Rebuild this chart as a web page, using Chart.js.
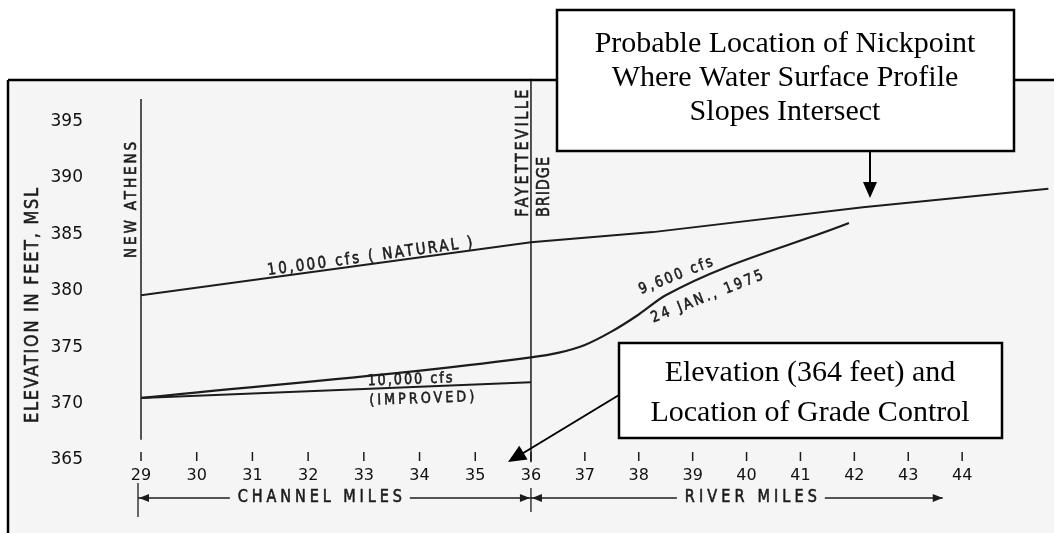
<!DOCTYPE html>
<html>
<head>
<meta charset="utf-8">
<script src="https://cdn.jsdelivr.net/npm/chart.js@4.4.0/dist/chart.umd.min.js"></script>
<style>
html, body { margin: 0; padding: 0; background: #fff; }
</style>
</head>
<body>
<canvas id="profileChart" width="1054" height="533"></canvas>
<script>
// 刻度
const xTicks = [29, 30, 31, 32, 33, 34, 35, 36, 37, 38, 39, 40, 41, 42, 43, 44];
const yTicks = [365, 370, 375, 380, 385, 390, 395];

// 10,000 cfs (NATURAL)
const naturalMiles = [29, 36, 38.26, 42.16, 45.6];
const naturalElev = [379.6, 384.3, 385.2, 387.4, 389.05];

// 9,600 cfs, 24 JAN. 1975
const janMiles = [29, 36, 36.5, 37, 37.5, 38, 38.5, 41.9];
const janElev = [370.5, 374.1, 374.5, 375.2, 376.4, 377.9, 379.6, 386.0];

// 10,000 cfs (IMPROVED)
const improvedMiles = [29, 36];
const improvedElev = [370.5, 371.9];

// New Athens / Fayetteville Bridge
const markerMiles = [29, 36];
const markerLow = [366.8, 364.8];
const markerHigh = [397, 398.8];

const ink = '#1c1c1c';
const hand = 'DejaVu Sans';
const serif = 'Liberation Serif';
// channel miles (29-36) take this share of the axis, river miles the rest
const channelShare = 0.429;

// 两种里程：河道里程与河流里程，比例不同
class MilesScale extends Chart.LinearScale {
    getPixelForValue(value) {
        const b = markerMiles[1];
        if (value <= b) return this.left + this.width * channelShare * (value - this.min) / (b - this.min);
        return this.left + this.width * (channelShare + (1 - channelShare) * (value - b) / (this.max - b));
    }
    getValueForPixel(pixel) {
        const b = markerMiles[1];
        const d = (pixel - this.left) / this.width;
        if (d <= channelShare) return this.min + d / channelShare * (b - this.min);
        return b + (d - channelShare) / (1 - channelShare) * (this.max - b);
    }
}
MilesScale.id = 'miles';
MilesScale.defaults = Chart.LinearScale.defaults;
Chart.register(MilesScale);

function pts(xs, ys) {
    return xs.map((x, i) => ({ x: x, y: ys[i] }));
}

// 手写字：窄一点，字距拉开到目标宽度
function label(ctx, text, x, y, angle, size, target, family, color, squeeze) {
    const sq = squeeze || 0.85;
    ctx.save();
    ctx.translate(x, y);
    ctx.rotate(angle);
    ctx.font = size + 'px "' + family + '"';
    ctx.fillStyle = color || ink;
    ctx.textAlign = 'center';
    ctx.textBaseline = 'middle';
    if (target) {
        ctx.letterSpacing = '0px';
        const w0 = ctx.measureText(text).width;
        const gap = Math.max((target / sq - w0) / (text.length - 1), 0);
        ctx.letterSpacing = gap + 'px';
        ctx.scale(sq, 1);
        ctx.fillText(text, gap / 2, 0);
        ctx.strokeStyle = color || ink;
        ctx.lineWidth = 0.6;
        ctx.strokeText(text, gap / 2, 0);
    } else {
        ctx.fillText(text, 0, 0);
    }
    ctx.restore();
}

function arrowHead(ctx, x1, y1, x2, y2, len, half) {
    const a = Math.atan2(y2 - y1, x2 - x1);
    const bx = x2 - len * Math.cos(a), by = y2 - len * Math.sin(a);
    ctx.beginPath();
    ctx.moveTo(x2, y2);
    ctx.lineTo(bx + half * Math.sin(a), by - half * Math.cos(a));
    ctx.lineTo(bx - half * Math.sin(a), by + half * Math.cos(a));
    ctx.closePath();
    ctx.fill();
}

function line(ctx, x1, y1, x2, y2) {
    ctx.beginPath();
    ctx.moveTo(x1, y1);
    ctx.lineTo(x2, y2);
    ctx.stroke();
}

const overlay = {
    id: 'overlay',
    beforeDraw(chart) {
        const ctx = chart.ctx;
        ctx.save();
        ctx.fillStyle = '#ffffff';
        ctx.fillRect(0, 0, chart.width, chart.height);
        ctx.fillStyle = '#f5f5f5';
        ctx.fillRect(8, 80, chart.width - 8, chart.height - 80);
        ctx.restore();
    },
    afterDraw(chart) {
        const ctx = chart.ctx;
        const xs = chart.scales.x, ys = chart.scales.y;
        const px = v => xs.getPixelForValue(v);
        const py = v => ys.getPixelForValue(v);
        const bottom = chart.chartArea.bottom;

        ctx.save();
        // 外框
        ctx.strokeStyle = '#000';
        ctx.lineWidth = 2.5;
        line(ctx, 8, 80, chart.width, 80);
        line(ctx, 8, 80, 8, chart.height);

        // x轴小刻度
        ctx.strokeStyle = ink;
        ctx.lineWidth = 1.5;
        xTicks.forEach(v => line(ctx, px(v), bottom - 8, px(v), bottom + 1));

        // y轴标题
        label(ctx, 'ELEVATION IN FEET, MSL', 33, py(378.7), -Math.PI / 2, 19, 235, hand);

        // 地名
        label(ctx, 'NEW ATHENS', px(29) - 9, py(388.05), -Math.PI / 2, 16, 116, hand);
        label(ctx, 'FAYETTEVILLE', px(36) - 7, py(392.2), -Math.PI / 2, 17, 127, hand);
        label(ctx, 'BRIDGE', px(36) + 14, py(389.2), -Math.PI / 2, 17, 60, hand);

        // 曲线标注
        const natAngle = Math.atan2(py(384.3) - py(379.6), px(36) - px(29));
        label(ctx, '10,000 cfs ( NATURAL )', px(33.11), py(383.0), natAngle, 16, 207, hand);
        const janAngle = Math.atan2(py(386.0) - py(379.6), px(41.9) - px(38.5));
        label(ctx, '9,600 cfs', px(38.69), py(381.3), janAngle, 15, 78, hand);
        label(ctx, '24 JAN., 1975', px(39.27), py(379.45), janAngle, 15, 119, hand);
        label(ctx, '10,000 cfs', px(33.83), py(372.1), -0.035, 15, 85, hand);
        label(ctx, '(IMPROVED)', px(34.04), py(370.4), -0.035, 15, 105, hand);

        // CHANNEL MILES / RIVER MILES
        const dy = bottom + 38;
        ctx.fillStyle = ink;
        ctx.lineWidth = 1.3;
        line(ctx, px(29) - 3, bottom + 23, px(29) - 3, bottom + 57);
        line(ctx, px(36), bottom + 28, px(36), bottom + 52);
        label(ctx, 'CHANNEL MILES', px(32.21), dy, 0, 17, 164, hand);
        label(ctx, 'RIVER MILES', px(40.08), dy, 0, 17, 132, hand);
        ctx.lineWidth = 1.3;
        line(ctx, px(29) - 3, dy, px(32.21) - 90, dy);
        line(ctx, px(32.21) + 90, dy, px(36), dy);
        line(ctx, px(36), dy, px(40.08) - 74, dy);
        line(ctx, px(40.08) + 74, dy, px(43.64), dy);
        arrowHead(ctx, px(29) + 10, dy, px(29) - 2, dy, 10, 4);
        arrowHead(ctx, px(36) - 12, dy, px(36) - 1, dy, 10, 4);
        arrowHead(ctx, px(36) + 12, dy, px(36) + 1, dy, 10, 4);
        arrowHead(ctx, px(43.2), dy, px(43.64), dy, 10, 4);

        // 说明框
        ctx.fillStyle = '#fff';
        ctx.strokeStyle = '#000';
        ctx.lineWidth = 2.5;
        ctx.fillRect(557, 10, 457, 141);
        ctx.strokeRect(557, 10, 457, 141);
        label(ctx, 'Probable Location of Nickpoint', 785, 44, 0, 30, 0, serif, '#000');
        label(ctx, 'Where Water Surface Profile', 785, 78, 0, 30, 0, serif, '#000');
        label(ctx, 'Slopes Intersect', 785, 112, 0, 30, 0, serif, '#000');
        ctx.lineWidth = 2;
        line(ctx, 870, 151, 870, 186);
        ctx.fillStyle = '#000';
        arrowHead(ctx, 870, 151, 870, 198, 16, 7);

        ctx.fillStyle = '#fff';
        ctx.lineWidth = 2.5;
        ctx.fillRect(619, 343, 383, 95);
        ctx.strokeRect(619, 343, 383, 95);
        label(ctx, 'Elevation (364 feet) and', 810, 373, 0, 30, 0, serif, '#000');
        label(ctx, 'Location of Grade Control', 810, 413, 0, 30, 0, serif, '#000');
        ctx.lineWidth = 2;
        line(ctx, 619, 395, 520, 455);
        ctx.fillStyle = '#000';
        arrowHead(ctx, 619, 395, 508, 462, 18, 8);
        ctx.restore();
    }
};

const lineStyle = { borderColor: ink, pointRadius: 0, fill: false };

const profileChart = new Chart(document.getElementById('profileChart').getContext('2d'), {
    type: 'line',
    data: {
        datasets: [
            Object.assign({ label: '10,000 cfs (NATURAL)', data: pts(naturalMiles, naturalElev), borderWidth: 2 }, lineStyle),
            Object.assign({ label: '9,600 cfs 24 JAN. 1975', data: pts(janMiles, janElev), borderWidth: 2.2, cubicInterpolationMode: 'monotone' }, lineStyle),
            Object.assign({ label: '10,000 cfs (IMPROVED)', data: pts(improvedMiles, improvedElev), borderWidth: 2 }, lineStyle),
            Object.assign({ label: 'NEW ATHENS', data: pts([markerMiles[0], markerMiles[0]], [markerLow[0], markerHigh[0]]), borderWidth: 1.5, clip: false }, lineStyle),
            Object.assign({ label: 'FAYETTEVILLE BRIDGE', data: pts([markerMiles[1], markerMiles[1]], [markerLow[1], markerHigh[1]]), borderWidth: 1.5, clip: false }, lineStyle)
        ]
    },
    options: {
        responsive: false,
        animation: false,
        layout: { padding: { top: 99, right: 4, left: 0, bottom: 0 } },
        plugins: {
            legend: { display: false },
            tooltip: { enabled: false }
        },
        scales: {
            x: {
                type: 'miles',
                min: 29,
                max: 45.63,
                afterBuildTicks: (s) => { s.ticks = xTicks.map(v => ({ value: v })); },
                afterFit: (s) => { s.height = 73; },
                grid: { display: false, drawTicks: false },
                border: { display: false },
                ticks: {
                    padding: 6,
                    maxRotation: 0,
                    autoSkip: false,
                    color: '#111',
                    font: { family: hand, size: 16 }
                }
            },
            y: {
                min: 365,
                max: 397,
                afterBuildTicks: (s) => { s.ticks = yTicks.map(v => ({ value: v })); },
                afterFit: (s) => { s.width = 141; },
                grid: { display: false, drawTicks: false },
                border: { display: false },
                ticks: {
                    padding: 58,
                    color: '#111',
                    font: { family: hand, size: 17 }
                }
            }
        }
    },
    plugins: [overlay]
});
</script>
</body>
</html>
